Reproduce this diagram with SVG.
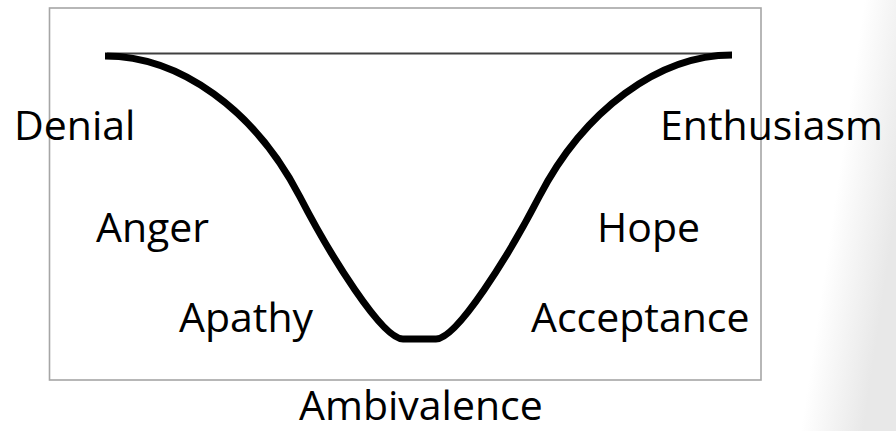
<svg xmlns="http://www.w3.org/2000/svg" width="896" height="431" viewBox="0 0 896 431">
  <defs>
    <linearGradient id="bg" gradientUnits="userSpaceOnUse" x1="835" y1="200" x2="896" y2="209">
      <stop offset="0" stop-color="#ffffff"/>
      <stop offset="1" stop-color="#e8e8e8"/>
    </linearGradient>
  </defs>
  <style>
    .lbl { font-family: "Open Sans", "Liberation Sans", sans-serif; font-size: 41px; fill: #000000; }
    .frame { fill: none; stroke: #a6a6a6; stroke-width: 1.6; }
    .top { fill: none; stroke: #404040; stroke-width: 2; }
    .curve { fill: none; stroke: #000000; stroke-width: 7; stroke-linecap: butt; stroke-linejoin: round; }
  </style>
  <rect x="0" y="0" width="896" height="431" fill="url(#bg)"/>
  <g id="chart">
    <rect class="frame" x="49.5" y="8" width="711.5" height="372" fill="#ffffff"/>
    <line class="top" x1="107" y1="53.5" x2="730" y2="53.5"/>
  </g>
  <g id="connectors">
    <path class="curve" d="M105,56 C180,56 255,110 300,197 C330,255 382,339 403,339 L436,339 C457,339 509,255 539,197 C584,110 659,55 732,55"/>
  </g>
  <g id="denial"><text class="lbl" x="14" y="140">Denial</text></g>
  <g id="enthusiasm"><text class="lbl" x="660" y="140">Enthusiasm</text></g>
  <g id="anger"><text class="lbl" x="96" y="242">Anger</text></g>
  <g id="hope"><text class="lbl" x="597" y="242">Hope</text></g>
  <g id="apathy"><text class="lbl" x="179" y="332">Apathy</text></g>
  <g id="acceptance"><text class="lbl" x="531" y="332">Acceptance</text></g>
  <g id="ambivalence"><text class="lbl" x="299" y="420">Ambivalence</text></g>
</svg>
